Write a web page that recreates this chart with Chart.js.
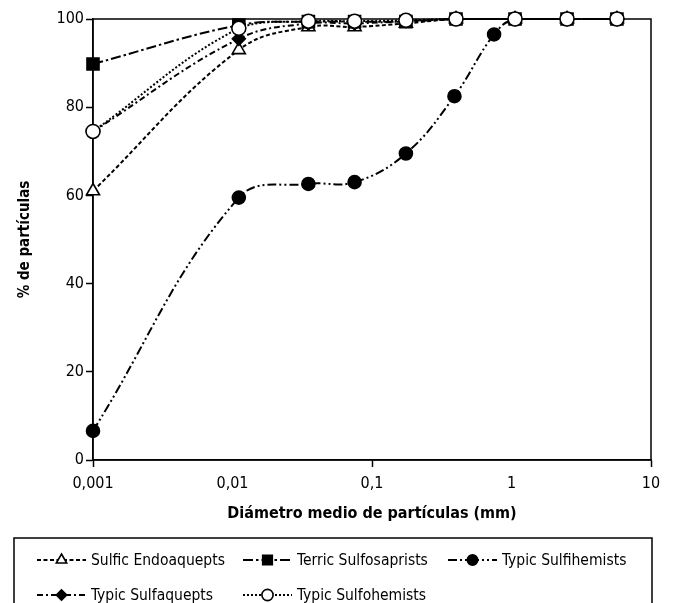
<!DOCTYPE html>
<html>
<head>
<meta charset="utf-8">
<script src="https://cdn.jsdelivr.net/npm/chart.js@4/dist/chart.umd.min.js"></script>
<style>
  html, body { margin: 0; padding: 0; background: #fff; }
  #grafico { display: block; }
</style>
</head>
<body>
<canvas id="grafico" width="675" height="603"></canvas>
<script>
// diámetros medios (mm)
var diametros = [0.001, 0.0111, 0.035, 0.075, 0.175, 0.4, 1.06, 2.5, 5.7];
var diametrosSulfihemists = [0.001, 0.0111, 0.035, 0.075, 0.175, 0.39, 0.75, 1.06, 2.5, 5.7];

// % de partículas
var sulficEndoaquepts = [61, 93, 98.2, 98.2, 99, 100, 100, 100, 100];
var terricSulfosaprists = [89.8, 98.6, 99.4, 99.4, 99.4, 100, 100, 100, 100];
var typicSulfihemists = [6.6, 59.5, 62.6, 63, 69.5, 82.5, 96.5, 100, 100, 100];
var typicSulfaquepts = [74.5, 95.5, 99, 99, 99.5, 100, 100, 100, 100];
var typicSulfohemists = [74.5, 97.9, 99.5, 99.5, 99.7, 100, 100, 100, 100];

var ticksX = [0.001, 0.01, 0.1, 1, 10];
var ticksY = [0, 20, 40, 60, 80, 100];

var fuente = "'Liberation Sans Narrow', 'DejaVu Sans Condensed', 'Liberation Sans', sans-serif";

function puntos(xs, ys) {
    return xs.map((x, i) => ({ x: x, y: ys[i] }));
}

var series = [
    { label: 'Sulfic Endoaquepts', data: puntos(diametros, sulficEndoaquepts), pointStyle: 'triangle', pointRadius: 7.5, fondo: '#fff', dash: [4, 2.5], order: 4 },
    { label: 'Terric Sulfosaprists', data: puntos(diametros, terricSulfosaprists), pointStyle: 'rect', pointRadius: 8.5, fondo: '#000', dash: [10, 3, 2.5, 3], order: 3 },
    { label: 'Typic Sulfihemists', data: puntos(diametrosSulfihemists, typicSulfihemists), pointStyle: 'circle', pointRadius: 6.5, fondo: '#000', dash: [9, 3, 2, 3, 2, 3], order: 5 },
    { label: 'Typic Sulfaquepts', data: puntos(diametros, typicSulfaquepts), pointStyle: 'rectRot', pointRadius: 6.5, fondo: '#000', dash: [6, 3, 2, 3], order: 2 },
    { label: 'Typic Sulfohemists', data: puntos(diametros, typicSulfohemists), pointStyle: 'circle', pointRadius: 7, fondo: '#fff', dash: [2, 2], order: 1 }
];

var datasets = series.map(s => ({
    label: s.label,
    data: s.data,
    borderColor: '#000',
    borderWidth: 2,
    borderDash: s.dash,
    backgroundColor: s.fondo,
    pointStyle: s.pointStyle,
    pointRadius: s.pointRadius,
    pointBackgroundColor: s.fondo,
    pointBorderColor: '#000',
    pointBorderWidth: 1.6,
    tension: 0.4,
    fill: false,
    clip: false,
    order: s.order
}));

// marco superior y derecho del área del gráfico
var marco = {
    id: 'marco',
    beforeDatasetsDraw(chart) {
        const a = chart.chartArea;
        const ctx = chart.ctx;
        ctx.save();
        ctx.strokeStyle = '#000';
        ctx.lineWidth = 1.5;
        ctx.strokeRect(a.left, a.top, a.right - a.left, a.bottom - a.top);
        ctx.restore();
    }
};

// leyenda dibujada a mano (línea punteada + marcador)
var leyenda = {
    id: 'leyenda',
    afterDraw(chart) {
        const ctx = chart.ctx;
        // [inicio muestra, fin muestra, inicio texto]
        const cols = [[37, 86, 91], [243, 292, 297], [448, 497, 502]];
        const filas = [560, 595];
        ctx.save();
        ctx.strokeStyle = '#000';
        ctx.lineWidth = 1.5;
        ctx.setLineDash([]);
        ctx.strokeRect(14, 538, 638, 80);
        ctx.font = '15.5px ' + fuente;
        ctx.textBaseline = 'middle';
        chart.data.datasets.forEach((ds, i) => {
            const c = cols[i % 3];
            const y = filas[Math.floor(i / 3)];
            ctx.beginPath();
            ctx.setLineDash(ds.borderDash);
            ctx.lineWidth = 2;
            ctx.moveTo(c[0], y);
            ctx.lineTo(c[1], y);
            ctx.stroke();
            ctx.setLineDash([]);
            ctx.lineWidth = 1.6;
            ctx.fillStyle = ds.pointBackgroundColor;
            Chart.helpers.drawPoint(ctx, { pointStyle: ds.pointStyle, radius: ds.pointRadius * 0.8, borderWidth: 1.6 }, (c[0] + c[1]) / 2, y);
            ctx.fillStyle = '#000';
            ctx.fillText(ds.label, c[2], y + 1);
        });
        ctx.restore();
    }
};

var ctx = document.getElementById('grafico').getContext('2d');
var grafico = new Chart(ctx, {
    type: 'line',
    data: { datasets: datasets },
    options: {
        responsive: false,
        animation: false,
        layout: {
            padding: { left: 0, top: 19, right: 24, bottom: 76 }
        },
        scales: {
            x: {
                type: 'logarithmic',
                min: 0.001,
                max: 10,
                afterBuildTicks: (scale) => { scale.ticks = ticksX.map(v => ({ value: v })); },
                afterFit: (scale) => { scale.height = 67; },
                border: { display: true, color: '#000', width: 1.5 },
                grid: {
                    display: true,
                    drawOnChartArea: false,
                    drawTicks: true,
                    tickLength: 7,
                    tickWidth: 1.5,
                    tickColor: (c) => (c.tick && (c.tick.value === 0.01 || c.tick.value === 1)) ? 'rgba(0,0,0,0)' : '#000'
                },
                ticks: {
                    color: '#000',
                    padding: 7,
                    maxRotation: 0,
                    font: { family: fuente, size: 16 },
                    callback: (v) => String(v).replace('.', ',')
                },
                title: {
                    display: true,
                    text: 'Diámetro medio de partículas (mm)',
                    color: '#000',
                    padding: { top: 0, bottom: 4 },
                    font: { family: fuente, size: 16, weight: 'bold' }
                }
            },
            y: {
                min: 0,
                max: 100,
                afterBuildTicks: (scale) => { scale.ticks = ticksY.map(v => ({ value: v })); },
                afterFit: (scale) => { scale.width = 93; },
                border: { display: true, color: '#000', width: 1.5 },
                grid: {
                    display: true,
                    drawOnChartArea: false,
                    drawTicks: true,
                    tickLength: 7,
                    tickWidth: 1.5,
                    tickColor: '#000'
                },
                ticks: {
                    color: '#000',
                    padding: 2,
                    font: { family: fuente, size: 16 }
                },
                title: {
                    display: true,
                    text: '% de partículas',
                    color: '#000',
                    padding: { top: 16, bottom: 0 },
                    font: { family: fuente, size: 15, weight: 'bold' }
                }
            }
        },
        plugins: {
            legend: { display: false },
            tooltip: { enabled: false }
        }
    },
    plugins: [marco, leyenda]
});
</script>
</body>
</html>
